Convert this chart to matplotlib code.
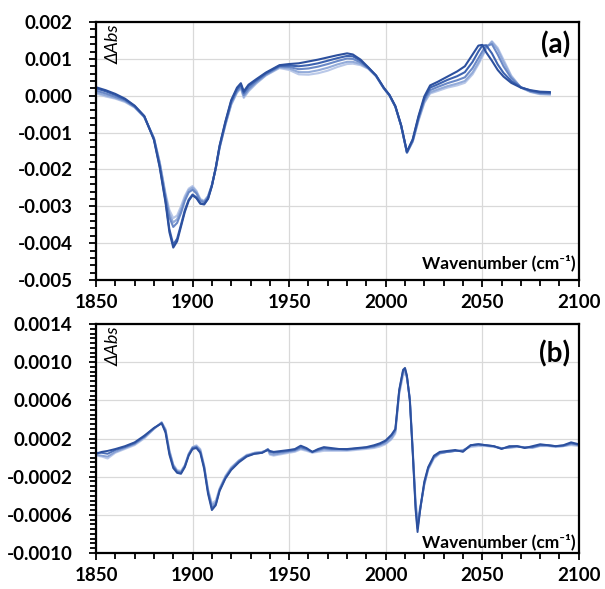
import matplotlib
matplotlib.use("Agg")
import matplotlib.pyplot as plt
from matplotlib.ticker import MultipleLocator, FixedLocator, FormatStrFormatter

plt.rcParams["font.family"] = ["Lato", "DejaVu Sans"]
plt.rcParams["axes.unicode_minus"] = False

# ---- panel (a): wavenumber grid and 5 spectra (units of 1e-3 Abs) ----
wn_a = [1850, 1855, 1860, 1865, 1870, 1875, 1880, 1883, 1886, 1888,
        1890, 1892, 1894, 1896, 1898, 1900, 1902, 1904, 1906, 1908,
        1910, 1912, 1914, 1917, 1920, 1923, 1925, 1926.5, 1929, 1933,
        1938, 1945, 1950, 1955, 1960, 1965, 1970, 1975, 1980, 1983,
        1987, 1991, 1995, 1999, 2002, 2005, 2008, 2011, 2014, 2017,
        2020, 2023, 2027, 2032, 2037, 2041, 2045, 2048, 2050, 2052,
        2055, 2058, 2061, 2065, 2070, 2075, 2080, 2085]

a0 = [0.23, 0.15, 0.05, -0.08, -0.27, -0.55, -1.20, -1.95, -2.90, -3.70,
      -4.12, -3.95, -3.55, -3.15, -2.85, -2.70, -2.78, -2.93, -2.95, -2.80,
      -2.45, -1.95, -1.35, -0.70, -0.12, 0.22, 0.34, 0.12, 0.30, 0.45,
      0.63, 0.83, 0.86, 0.88, 0.93, 0.98, 1.04, 1.10, 1.15, 1.12,
      0.98, 0.77, 0.55, 0.22, 0.02, -0.28, -0.80, -1.52, -1.18, -0.55,
      -0.02, 0.28, 0.38, 0.52, 0.66, 0.80, 1.12, 1.36, 1.38, 1.18,
      0.95, 0.70, 0.52, 0.35, 0.22, 0.15, 0.11, 0.10]
a1 = [0.20, 0.12, 0.02, -0.10, -0.28, -0.56, -1.18, -1.92, -2.85, -3.62,
      -4.04, -3.88, -3.50, -3.10, -2.82, -2.68, -2.76, -2.92, -2.94, -2.79,
      -2.44, -1.96, -1.37, -0.72, -0.15, 0.18, 0.30, 0.08, 0.26, 0.42,
      0.61, 0.81, 0.82, 0.80, 0.83, 0.88, 0.95, 1.02, 1.08, 1.07,
      0.95, 0.76, 0.55, 0.21, 0.01, -0.29, -0.81, -1.53, -1.20, -0.58,
      -0.07, 0.22, 0.31, 0.43, 0.53, 0.64, 0.92, 1.20, 1.36, 1.37,
      1.15, 0.85, 0.62, 0.40, 0.23, 0.14, 0.09, 0.08]
a2 = [0.14, 0.06, -0.03, -0.13, -0.30, -0.57, -1.16, -1.86, -2.75, -3.30,
      -3.56, -3.45, -3.18, -2.85, -2.62, -2.55, -2.65, -2.85, -2.89, -2.75,
      -2.43, -1.97, -1.40, -0.76, -0.20, 0.13, 0.25, 0.02, 0.19, 0.38,
      0.58, 0.79, 0.78, 0.72, 0.74, 0.79, 0.86, 0.94, 1.01, 1.00,
      0.90, 0.75, 0.54, 0.21, 0.01, -0.29, -0.81, -1.54, -1.22, -0.62,
      -0.12, 0.15, 0.24, 0.34, 0.42, 0.50, 0.75, 1.02, 1.20, 1.35,
      1.40, 1.12, 0.80, 0.48, 0.23, 0.12, 0.07, 0.06]
a3 = [0.09, 0.01, -0.06, -0.15, -0.31, -0.58, -1.15, -1.82, -2.70, -3.20,
      -3.44, -3.35, -3.08, -2.78, -2.56, -2.49, -2.61, -2.82, -2.87, -2.73,
      -2.42, -1.98, -1.41, -0.78, -0.23, 0.10, 0.22, -0.03, 0.15, 0.35,
      0.56, 0.77, 0.74, 0.64, 0.64, 0.69, 0.76, 0.85, 0.92, 0.92,
      0.86, 0.74, 0.53, 0.20, 0.00, -0.30, -0.82, -1.55, -1.24, -0.65,
      -0.17, 0.09, 0.17, 0.26, 0.33, 0.40, 0.63, 0.90, 1.10, 1.30,
      1.46, 1.25, 0.92, 0.52, 0.22, 0.11, 0.05, 0.04]
a4 = [0.06, -0.02, -0.08, -0.17, -0.32, -0.58, -1.15, -1.80, -2.65, -3.10,
      -3.32, -3.25, -3.00, -2.72, -2.52, -2.45, -2.58, -2.80, -2.85, -2.72,
      -2.42, -1.98, -1.42, -0.80, -0.25, 0.08, 0.20, -0.06, 0.12, 0.33,
      0.55, 0.75, 0.70, 0.58, 0.57, 0.61, 0.68, 0.78, 0.86, 0.87,
      0.83, 0.73, 0.53, 0.20, 0.00, -0.30, -0.82, -1.55, -1.25, -0.68,
      -0.20, 0.06, 0.13, 0.22, 0.28, 0.35, 0.58, 0.85, 1.05, 1.28,
      1.48, 1.30, 0.98, 0.55, 0.22, 0.10, 0.04, 0.03]

# ---- panel (b): wavenumber grid and 4 spectra (units of 1e-4 Abs) ----
wn_b = [1850, 1853, 1856, 1860, 1865, 1870, 1875, 1880, 1884, 1886,
        1888, 1890, 1892, 1894, 1896, 1898, 1900, 1902, 1904, 1906,
        1908, 1910, 1912, 1914, 1917, 1920, 1924, 1928, 1932, 1936,
        1939, 1940, 1942, 1946, 1950, 1953, 1956, 1959, 1962, 1965,
        1968, 1972, 1976, 1980, 1985, 1990, 1994, 1997, 2000, 2003,
        2005, 2007, 2009, 2010, 2011, 2012.5, 2014, 2015.5, 2016.5, 2018,
        2020, 2022, 2025, 2028, 2032, 2036, 2040, 2044, 2048, 2052,
        2056, 2060, 2064, 2068, 2072, 2076, 2080, 2084, 2088, 2092,
        2096, 2100]

b0 = [0.4, 0.6, 0.7, 0.9, 1.2, 1.6, 2.3, 3.1, 3.6, 2.6,
      0.3, -1.1, -1.6, -1.7, -1.0, 0.2, 0.9, 1.0, 0.5, -1.2,
      -3.8, -5.5, -5.0, -3.5, -2.2, -1.3, -0.5, 0.1, 0.4, 0.5,
      0.8, 0.7, 0.6, 0.7, 0.8, 0.9, 1.25, 1.0, 0.6, 0.9,
      1.1, 1.0, 0.9, 0.9, 1.0, 1.1, 1.3, 1.5, 1.8, 2.4,
      3.0, 7.1, 9.2, 9.4, 8.6, 6.0, 0.5, -5.5, -7.8, -5.2,
      -2.5, -1.0, 0.2, 0.6, 0.7, 0.8, 0.6, 1.3, 1.4, 1.3,
      1.2, 0.9, 1.2, 1.2, 1.0, 1.2, 1.4, 1.3, 1.2, 1.3,
      1.6, 1.4]
b1 = [0.5, 0.5, 0.4, 0.8, 1.1, 1.5, 2.2, 3.1, 3.6, 2.8,
      0.5, -0.9, -1.5, -1.6, -0.9, 0.3, 1.0, 1.1, 0.6, -1.0,
      -3.6, -5.3, -4.9, -3.4, -2.1, -1.2, -0.4, 0.2, 0.4, 0.5,
      0.9, 0.6, 0.5, 0.6, 0.7, 0.8, 1.1, 0.9, 0.6, 0.8,
      1.0, 0.9, 0.9, 0.85, 0.95, 1.05, 1.2, 1.4, 1.7, 2.3,
      2.9, 7.0, 9.1, 9.3, 8.5, 6.0, 0.6, -5.2, -7.4, -5.3,
      -2.7, -1.1, 0.1, 0.5, 0.6, 0.7, 0.7, 1.3, 1.4, 1.3,
      1.2, 0.95, 1.1, 1.2, 1.05, 1.1, 1.3, 1.3, 1.2, 1.25,
      1.5, 1.35]
b2 = [0.3, 0.2, 0.1, 0.6, 1.0, 1.4, 2.1, 3.0, 3.7, 2.9,
      0.7, -0.8, -1.4, -1.5, -0.8, 0.4, 1.1, 1.2, 0.8, -0.9,
      -3.4, -5.0, -4.7, -3.3, -2.0, -1.1, -0.3, 0.2, 0.5, 0.6,
      0.8, 0.4, 0.3, 0.45, 0.6, 0.7, 0.95, 0.8, 0.55, 0.7,
      0.85, 0.8, 0.8, 0.8, 0.9, 1.0, 1.1, 1.3, 1.5, 2.0,
      2.7, 6.8, 8.9, 9.1, 8.4, 6.2, 0.8, -4.8, -6.9, -5.2,
      -2.8, -1.2, 0.0, 0.45, 0.6, 0.7, 0.75, 1.2, 1.3, 1.25,
      1.15, 1.0, 1.05, 1.15, 1.1, 1.05, 1.25, 1.25, 1.15, 1.2,
      1.4, 1.3]
b3 = [0.2, 0.1, -0.1, 0.5, 0.9, 1.3, 2.0, 3.0, 3.7, 3.0,
      0.8, -0.7, -1.3, -1.4, -0.8, 0.4, 1.1, 1.3, 0.9, -0.8,
      -3.3, -4.8, -4.5, -3.2, -1.9, -1.0, -0.3, 0.3, 0.5, 0.6,
      0.8, 0.3, 0.2, 0.35, 0.5, 0.6, 0.85, 0.7, 0.5, 0.6,
      0.7, 0.7, 0.7, 0.7, 0.8, 0.9, 1.0, 1.15, 1.4, 1.9,
      2.5, 6.6, 8.6, 8.8, 8.3, 6.3, 1.0, -4.5, -6.5, -5.0,
      -2.9, -1.3, -0.1, 0.4, 0.6, 0.7, 0.8, 1.1, 1.2, 1.2,
      1.1, 1.0, 1.0, 1.1, 1.1, 1.0, 1.2, 1.2, 1.1, 1.2,
      1.3, 1.2]

yticks_a = [-0.005, -0.004, -0.003, -0.002, -0.001, 0.0, 0.001, 0.002]
yticks_b = [-0.0010, -0.0006, -0.0002, 0.0002, 0.0006, 0.0010, 0.0014]

colors_a = ["#b9c8e8", "#93abd9", "#6a89c7", "#3d63b0", "#2c509e"]
colors_b = ["#bccaea", "#8aa3d6", "#4d70b8", "#2c509e"]

GRID = "#d9d9d9"


def style_axis(ax, yticks, yminor, yfmt):
    ax.set_xlim(1850, 2100)
    ax.set_ylim(yticks[0], yticks[-1])
    ax.xaxis.set_major_locator(MultipleLocator(50))
    ax.xaxis.set_minor_locator(MultipleLocator(10))
    ax.yaxis.set_major_locator(FixedLocator(yticks))
    ax.yaxis.set_minor_locator(MultipleLocator(yminor))
    ax.yaxis.set_major_formatter(FormatStrFormatter(yfmt))
    ax.grid(True, which="major", color=GRID, lw=0.9)
    ax.set_axisbelow(True)
    for s in ax.spines.values():
        s.set_linewidth(1.6)
    ax.tick_params(which="both", direction="out", width=1.3, labelsize=13.5)
    ax.tick_params(which="major", length=5)
    ax.tick_params(which="minor", length=4.5)
    ax.tick_params(axis="y", pad=12)
    ax.tick_params(axis="x", pad=5)
    for lab in ax.get_xticklabels() + ax.get_yticklabels():
        lab.set_fontweight("bold")
    ax.text(0.036, 0.99, "\u0394Abs", transform=ax.transAxes, rotation=90,
            ha="center", va="top", fontsize=13, style="italic")


fig = plt.figure(figsize=(6.05, 5.89), dpi=100)
ax_a = fig.add_axes([0.1587, 0.5246, 0.798, 0.438])
ax_b = fig.add_axes([0.1587, 0.0611, 0.798, 0.3888])

for ys, c in zip([a4, a3, a2, a1, a0], colors_a):
    ax_a.plot(wn_a, [v * 1e-3 for v in ys], color=c, lw=1.5)
for ys, c in zip([b3, b2, b1, b0], colors_b):
    ax_b.plot(wn_b, [v * 1e-4 for v in ys], color=c, lw=1.4)

style_axis(ax_a, yticks_a, 0.0002, "%.3f")
style_axis(ax_b, yticks_b, 0.00005, "%.4f")

ax_a.text(0.982, 0.91, "(a)", transform=ax_a.transAxes, ha="right",
          va="center", fontsize=20, fontweight="bold")
ax_b.text(0.982, 0.87, "(b)", transform=ax_b.transAxes, ha="right",
          va="center", fontsize=20, fontweight="bold")
for ax, yy in [(ax_a, 0.066), (ax_b, 0.05)]:
    ax.text(0.993, yy, "Wavenumber (cm\u207b\u00b9)", transform=ax.transAxes,
            ha="right", va="center", fontsize=12.5, fontweight="bold")

fig.savefig("out.png", dpi=100)
